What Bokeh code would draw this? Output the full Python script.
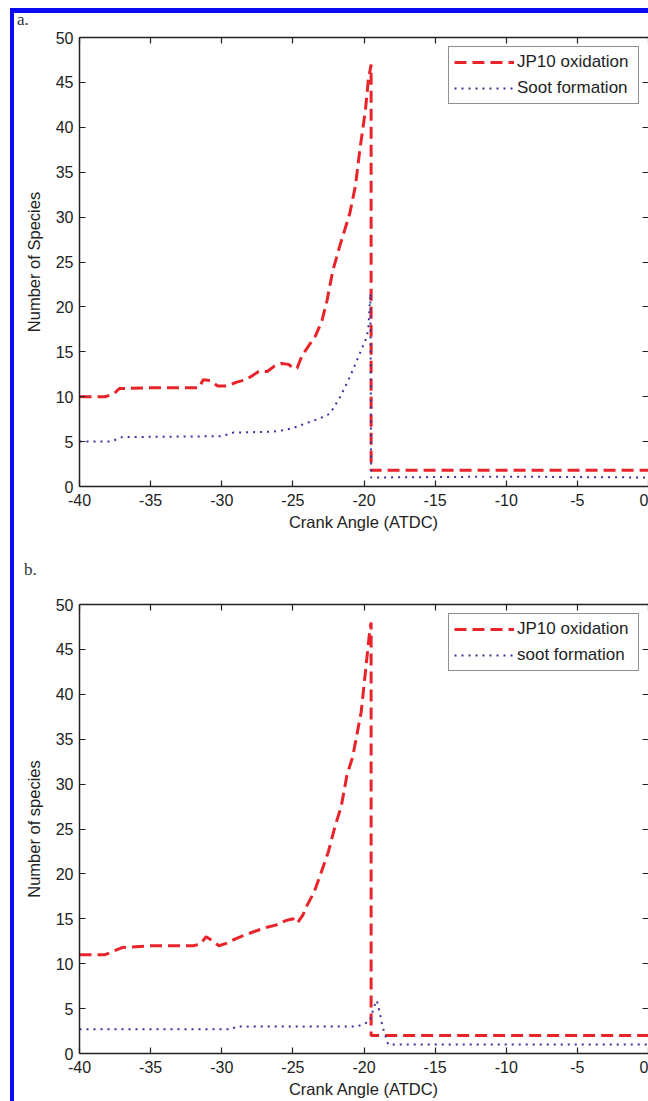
from bokeh.plotting import figure
from bokeh.models import (LinearAxis, Range1d, Legend, LegendItem, Div, FixedTicker,
                          CustomLabelingPolicy)
from bokeh.layouts import column
from bokeh.embed import file_html
from bokeh.resources import INLINE

# ---- data ----
X_TICKS = [-40, -35, -30, -25, -20, -15, -10, -5, 0]
Y_TICKS = [0, 5, 10, 15, 20, 25, 30, 35, 40, 45, 50]

A_JP10_X = [-40, -38.2, -37.6, -37.2, -35.0, -31.6, -31.3, -30.8, -30.3, -29.6, -29.0, -28.3,
            -27.8, -27.4, -26.8, -26.3, -25.8, -25.3, -24.9, -24.7, -24.35, -24.0, -23.4,
            -22.95, -22.6, -22.2, -21.7, -21.0, -20.6, -20.3, -19.9, -19.7, -19.5, -19.5, 0]
A_JP10_Y = [10.0, 10.0, 10.3, 10.9, 11.0, 11.0, 11.9, 11.8, 11.2, 11.2, 11.6, 11.9,
            12.4, 12.8, 12.8, 13.4, 13.7, 13.6, 13.1, 13.2, 14.6, 15.4, 16.8,
            18.5, 20.7, 24.0, 26.8, 30.4, 33.5, 37.4, 41.9, 45.2, 47.0, 1.8, 1.8]

A_SOOT_X = [-40, -37.8, -37.0, -30.0, -29.2, -26.5, -25.9, -25.0, -24.5, -23.8, -23.1, -22.4,
            -21.7, -21.2, -20.8, -20.3, -19.9, -19.7, -19.55, -19.5, -15, -10, -5, 0]
A_SOOT_Y = [5.0, 5.0, 5.5, 5.6, 6.0, 6.1, 6.2, 6.5, 6.8, 7.2, 7.6, 8.1,
            9.9, 11.5, 12.9, 14.8, 16.3, 17.4, 21.5, 1.0, 1.05, 1.1, 1.05, 1.0]

B_JP10_X = [-40, -38.2, -37.6, -37.0, -35.0, -32.0, -31.5, -31.1, -30.7, -30.2, -29.6, -29.0,
            -28.2, -27.5, -27.0, -26.2, -25.5, -25.0, -24.7, -24.3, -24.0, -23.5, -23.0,
            -22.5, -22.0, -21.6, -21.2, -20.8, -20.5, -20.2, -20.0, -19.8, -19.6, -19.5, -19.5, 0]
B_JP10_Y = [11.0, 11.0, 11.4, 11.8, 12.0, 12.0, 12.2, 13.0, 12.6, 12.0, 12.3, 12.8,
            13.3, 13.7, 14.0, 14.3, 14.8, 15.0, 14.5, 15.4, 16.5, 18.0, 20.2,
            22.5, 25.5, 27.5, 31.0, 33.0, 35.5, 38.0, 41.0, 44.0, 47.0, 48.0, 2.0, 2.0]

B_SOOT_X = [-40, -29.3, -29.0, -20.5, -20.0, -19.6, -19.3, -19.1, -18.9, -18.7, -18.5, -18.3, 0]
B_SOOT_Y = [2.7, 2.7, 3.0, 3.0, 3.3, 3.6, 5.2, 5.9, 4.6, 3.0, 2.0, 1.0, 1.0]

PANELS = [
    dict(tag="a.", jx=A_JP10_X, jy=A_JP10_Y, sx=A_SOOT_X, sy=A_SOOT_Y,
         labels=["JP10 oxidation", "Soot formation"], ylabel="Number of Species",
         height=536, top=10, bottom=77, pad=3),
    dict(tag="b.", jx=B_JP10_X, jy=B_JP10_Y, sx=B_SOOT_X, sy=B_SOOT_Y,
         labels=["JP10 oxidation", "soot formation"], ylabel="Number of species",
         height=524, top=27, bottom=48, pad=10),
]

FONT = "Liberation Sans"
INK = "#222222"
RED = "#e8232a"
BLUE = "#34349a"
W = 634


def hyphen_labels(ticks):
    return {t: str(t) for t in ticks}


def style_axis(ax, ticks, labels=True):
    ax.ticker = FixedTicker(ticks=ticks)
    ax.major_tick_in = 6
    ax.major_tick_out = 0
    ax.minor_tick_in = 0
    ax.minor_tick_out = 0
    ax.major_tick_line_color = INK
    ax.major_tick_line_width = 1.2
    ax.axis_line_color = INK
    ax.axis_line_width = 1.5
    ax.major_label_text_font = FONT
    if labels:
        ax.major_label_text_color = INK
        ax.major_label_text_font_size = "16px"
        ax.major_label_overrides = hyphen_labels(ticks)
    else:
        # mirrored tick marks only (MATLAB box style): no labels drawn
        ax.major_label_text_color = None
        ax.major_label_text_font_size = "1px"
        ax.major_label_standoff = 0
        ax.major_label_policy = CustomLabelingPolicy(
            code="for (const i of Array.from(indices)) indices.unset(i)")
    ax.axis_label_text_font = FONT
    ax.axis_label_text_font_size = "16.5px"
    ax.axis_label_text_font_style = "normal"
    ax.axis_label_text_color = INK


children = []
for d in PANELS:
    tag = Div(text=d["tag"], width=W, height=14, margin=0,
              styles={"font-family": "Liberation Serif", "font-size": "17px",
                      "line-height": "13px", "color": "#333333",
                      "padding-left": f'{d["pad"]}px'})
    p = figure(width=W, height=d["height"], x_range=Range1d(-40, 0), y_range=Range1d(0, 50),
               output_backend="svg", toolbar_location=None,
               min_border_left=65, min_border_right=0,
               min_border_top=d["top"], min_border_bottom=d["bottom"],
               background_fill_color="white", border_fill_color="white",
               outline_line_color=None, margin=0)
    p.xgrid.visible = False
    p.ygrid.visible = False
    for ax in p.xaxis:
        style_axis(ax, X_TICKS)
        ax.axis_label = "Crank Angle (ATDC)"
        ax.major_label_standoff = 7
        ax.axis_label_standoff = 4
    for ax in p.yaxis:
        style_axis(ax, Y_TICKS)
        ax.axis_label = d["ylabel"]
        ax.major_label_standoff = 6
        ax.axis_label_standoff = 10

    top_ax = LinearAxis()
    style_axis(top_ax, X_TICKS, labels=False)
    p.add_layout(top_ax, "above")
    right_ax = LinearAxis()
    style_axis(right_ax, Y_TICKS, labels=False)
    right_ax.axis_line_color = None
    p.add_layout(right_ax, "right")

    rj = p.line(d["jx"], d["jy"], line_color=RED, line_width=3, line_dash="12 6")
    rs = p.line(d["sx"], d["sy"], line_color=BLUE, line_width=2, line_dash="2 5")

    leg = Legend(items=[LegendItem(label=d["labels"][0], renderers=[rj]),
                        LegendItem(label=d["labels"][1], renderers=[rs])],
                 location="top_right", margin=9, padding=5, spacing=6,
                 glyph_width=60, glyph_height=20, label_height=20, label_standoff=3,
                 label_width=116,
                 label_text_font=FONT, label_text_font_size="17px",
                 label_text_color="#1e1e1e",
                 border_line_color=INK, border_line_width=1.2,
                 background_fill_color="white", background_fill_alpha=1.0)
    p.add_layout(leg)
    children += [tag, p]

layout = column(*children, spacing=0,
                styles={"border-left": "4px solid #0b0bf2", "border-top": "5px solid #0b0bf2",
                        "margin-left": "10px", "margin-top": "8px"})

open("out.html", "w").write(file_html(layout, INLINE))
